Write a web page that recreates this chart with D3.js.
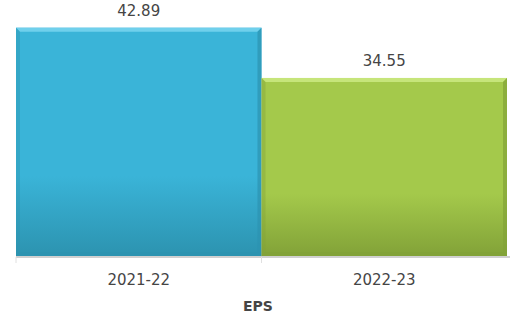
<!DOCTYPE html>
<html>
<head>
<meta charset="utf-8">
<script src="https://cdn.jsdelivr.net/npm/d3@7"></script>
<style>
  body { margin: 0; background: #fff; }
  text { font-family: "DejaVu Sans", Verdana, sans-serif; fill: #454545; }
</style>
</head>
<body>
<div id="chart"></div>
<script>
// chart data
var categories = ["2021-22", "2022-23"];
var values = [42.89, 34.55];
var axisTitle = "EPS";
var palette = [
  { base: "#3ab4d8", light: "#6fd0ec", dark: "#2c93b0" },
  { base: "#a4c94b", light: "#c6e57a", dark: "#82a238" }
];

var width = 510, height = 317;
var margin = { top: 15, right: 3, bottom: 61, left: 16 };

var svg = d3.select("#chart").append("svg")
    .attr("width", width)
    .attr("height", height);

var defs = svg.append("defs");
palette.forEach(function(c, i) {
  var g = defs.append("linearGradient")
      .attr("id", "grad" + i)
      .attr("x1", 0).attr("y1", 0).attr("x2", 0).attr("y2", 1);
  g.append("stop").attr("offset", "0%").attr("stop-color", c.base);
  g.append("stop").attr("offset", "65%").attr("stop-color", c.base);
  g.append("stop").attr("offset", "100%").attr("stop-color", c.dark);
});

var x = d3.scaleBand()
    .domain(categories)
    .range([margin.left, width - margin.right])
    .padding(0);

var y = d3.scaleLinear()
    .domain([5, 45])
    .range([height - margin.bottom, margin.top]);

var bars = svg.append("g").selectAll("g")
    .data(categories)
    .enter().append("g");

var bev = 4;

bars.each(function(d, i) {
  var g = d3.select(this);
  var x0 = x(d), x1 = x(d) + x.bandwidth();
  var y0 = y(values[i]), y1 = y(5);
  var c = palette[i];

  g.append("rect")
      .attr("x", x0).attr("y", y0)
      .attr("width", x1 - x0).attr("height", y1 - y0)
      .attr("fill", "url(#grad" + i + ")");

  // bevel edges
  g.append("polygon")
      .attr("points", [[x0, y0], [x1, y0], [x1 - bev, y0 + bev], [x0 + bev, y0 + bev]].join(" "))
      .attr("fill", c.light);
  g.append("polygon")
      .attr("points", [[x0, y0], [x0 + bev, y0 + bev], [x0 + bev, y1 - bev], [x0, y1]].join(" "))
      .attr("fill", c.dark).attr("opacity", 0.4);
  g.append("polygon")
      .attr("points", [[x1, y0], [x1 - bev, y0 + bev], [x1 - bev, y1 - bev], [x1, y1]].join(" "))
      .attr("fill", c.dark).attr("opacity", 0.7);
  g.append("polygon")
      .attr("points", [[x0, y1], [x0 + bev, y1 - bev], [x1 - bev, y1 - bev], [x1, y1]].join(" "))
      .attr("fill", c.dark);

  g.append("text")
      .attr("x", (x0 + x1) / 2)
      .attr("y", y0 - 12)
      .attr("text-anchor", "middle")
      .style("font-size", "15px")
      .text(values[i].toFixed(2));
});

// x axis
var axisY = height - margin.bottom + 1;
var xAxis = svg.append("g")
    .attr("transform", "translate(0," + axisY + ")");

xAxis.append("line")
    .attr("x1", margin.left).attr("x2", width)
    .attr("stroke", "#d0d0d0").attr("stroke-width", 2);

var tickPos = categories.map(function(d) { return x(d); });
xAxis.selectAll(".tick")
    .data(tickPos)
    .enter().append("line")
    .attr("x1", function(d) { return d; })
    .attr("x2", function(d) { return d; })
    .attr("y1", 0).attr("y2", 6)
    .attr("stroke", "#e0e0e0");

xAxis.selectAll(".lbl")
    .data(categories)
    .enter().append("text")
    .attr("x", function(d) { return x(d) + x.bandwidth() / 2; })
    .attr("y", 28)
    .attr("text-anchor", "middle")
    .style("font-size", "15px")
    .text(function(d) { return d; });

svg.append("text")
    .attr("x", width / 2 + 3)
    .attr("y", 311)
    .attr("text-anchor", "middle")
    .style("font-size", "14px")
    .style("font-weight", "bold")
    .text(axisTitle);
</script>
</body>
</html>
